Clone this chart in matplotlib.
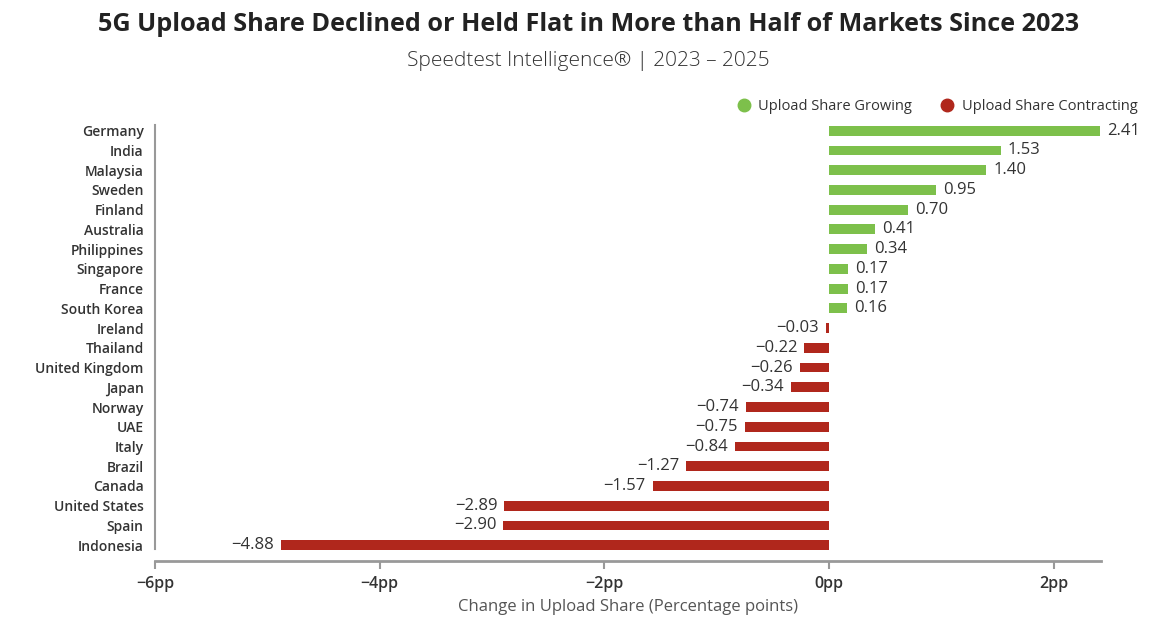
import numpy as np
import matplotlib
matplotlib.use('Agg')
import matplotlib.pyplot as plt
from matplotlib.lines import Line2D

plt.rcParams['font.family'] = ['Open Sans', 'DejaVu Sans']

countries = ['Germany', 'India', 'Malaysia', 'Sweden', 'Finland', 'Australia',
             'Philippines', 'Singapore', 'France', 'South Korea', 'Ireland',
             'Thailand', 'United Kingdom', 'Japan', 'Norway', 'UAE', 'Italy',
             'Brazil', 'Canada', 'United States', 'Spain', 'Indonesia']
change = [2.41, 1.53, 1.40, 0.95, 0.70, 0.41, 0.34, 0.17, 0.17, 0.16, -0.03,
          -0.22, -0.26, -0.34, -0.74, -0.75, -0.84, -1.27, -1.57, -2.89,
          -2.90, -4.88]
xticks = [-6, -4, -2, 0, 2]

GREEN = '#7dc04b'
RED = '#b0271c'
TXT = '#333333'

fig = plt.figure(figsize=(11.54, 6.24), dpi=100)
ax = fig.add_axes([0.1343, 0.101, 0.8197, 0.699])

y = np.arange(len(countries))
cols = [GREEN if v > 0 else RED for v in change]
bars = ax.barh(y, change, height=0.5, color=cols)

labels = [f'{v:.2f}'.replace('-', '\u2212') for v in change]
ax.bar_label(bars, labels=labels, padding=5, fontsize=12, color=TXT)

ax.set_ylim(21.8, -0.3)
ax.set_xlim(-6, 2.42)
ax.set_yticks(y)
ax.set_yticklabels(countries, fontsize=10, fontweight='semibold', color=TXT)
ax.tick_params(axis='y', length=0, pad=8)
ax.set_xticks(xticks)
ax.set_xticklabels([f'{t}pp'.replace('-', '\u2212') for t in xticks],
                   fontsize=11.5, fontweight='semibold', color=TXT)
ax.tick_params(axis='x', length=6, width=1.5, color='#999999', pad=5)

for s in ['top', 'right']:
    ax.spines[s].set_visible(False)
ax.spines['left'].set_bounds(21.2, -0.3)
ax.spines['left'].set_color('#999999')
ax.spines['left'].set_linewidth(1.5)
ax.spines['bottom'].set_color('#999999')
ax.spines['bottom'].set_linewidth(2)

ax.set_xlabel('Change in Upload Share (Percentage points)', fontsize=12,
              color='#555555', labelpad=5)

handles = [Line2D([], [], marker='o', ls='', color=GREEN, markersize=9),
           Line2D([], [], marker='o', ls='', color=RED, markersize=9)]
ax.legend(handles, ['Upload Share Growing', 'Upload Share Contracting'],
          loc='lower right', bbox_to_anchor=(1.048, 1.005), ncol=2, frameon=False,
          fontsize=10.5, handletextpad=0.0, columnspacing=1.4, borderaxespad=0.2,
          labelcolor=TXT)

fig.text(0.51, 0.96, '5G Upload Share Declined or Held Flat in More than Half of Markets Since 2023',
         ha='center', va='center', fontsize=18.2, fontweight='bold', color='#222222')
fig.text(0.51, 0.902, 'Speedtest Intelligence\u00ae | 2023 \u2013 2025',
         ha='center', va='center', fontsize=15, fontweight='light', color=TXT)

fig.savefig('out.png', dpi=100)
